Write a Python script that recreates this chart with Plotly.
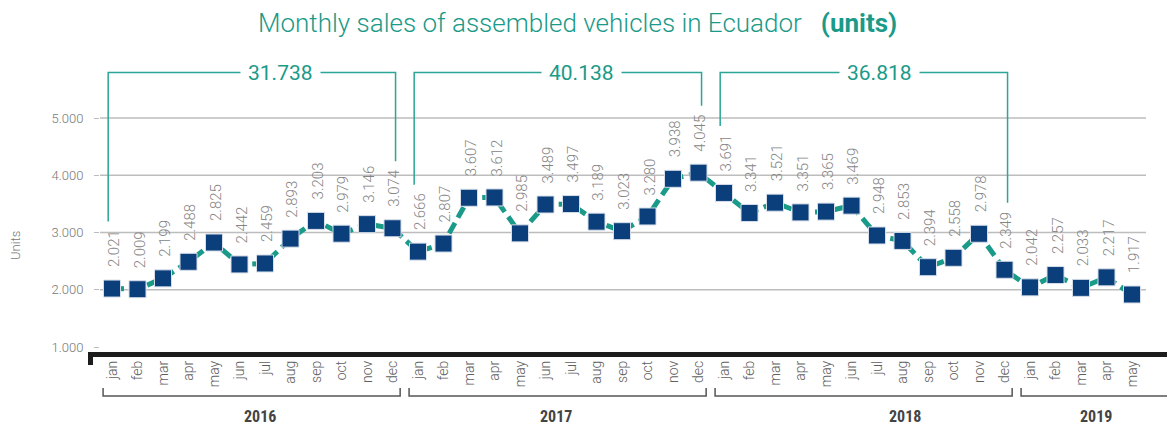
import plotly.graph_objects as go

# ---------------- data ----------------
months = ["jan", "feb", "mar", "apr", "may", "jun", "jul", "aug", "sep", "oct", "nov", "dec"]
years = ["2016", "2017", "2018", "2019"]
sales_2016 = [2021, 2009, 2199, 2488, 2825, 2442, 2459, 2893, 3203, 2979, 3146, 3074]
sales_2017 = [2666, 2807, 3607, 3612, 2985, 3489, 3497, 3189, 3023, 3280, 3938, 4045]
sales_2018 = [3691, 3341, 3521, 3351, 3365, 3469, 2948, 2853, 2394, 2558, 2978, 2349]
sales_2019 = [2042, 2257, 2033, 2217, 1917]
y_ticks = [1000, 2000, 3000, 4000, 5000]
grid_values = [2000, 3000, 4000, 5000]

series = [sales_2016, sales_2017, sales_2018, sales_2019]
values = [v for s in series for v in s]
labels = [m for s in series for m in months[:len(s)]]
idx = list(range(len(values)))


def fmt(v):
    return f"{v:,}".replace(",", ".")


# ---------------- layout geometry ----------------
OFF = 8                          # page body margin
W, H = 1175 - OFF, 428 - OFF
# all geometry below in page (reference) pixels
PL, PR, PT, PB = 100, 1146, 60, 352   # plot area edges
L, R, T, B = PL - OFF, W - (PR - OFF), PT - OFF, H - (PB - OFF)
PW, PH = PR - PL, PB - PT
X0_PX, STEP = 112, 25.5          # pixel of first month, px per month
x_range = [(PL - X0_PX) / STEP, (PR - X0_PX) / STEP]
K = 1000 / 57.25                 # data units per pixel
y_range = [1000 - (PB - 347) * K, 5000 + (118 - PT) * K]


def xp(i):  # month index -> paper x
    return (X0_PX + i * STEP - PL) / PW


def ppx(px):  # page pixel -> paper x
    return (px - PL) / PW


def ppy(py):  # page pixel -> paper y
    return (PB - py) / PH


TEAL = "#1a9a88"
NAVY = "#0b3f7b"
GRAY = "#858585"
FONT = "Roboto"

fig = go.Figure()
fig.add_trace(go.Scatter(
    x=idx, y=values, mode="lines+markers",
    line=dict(color=TEAL, width=5, dash="12px,6px"),
    marker=dict(symbol="square", size=17, color=NAVY,
                line=dict(color="#d6dee9", width=1)),
    cliponaxis=False, hoverinfo="skip", showlegend=False,
))

shapes = []
# gridlines
for g in grid_values:
    shapes.append(dict(type="line", xref="paper", yref="y", x0=0, x1=1, y0=g, y1=g,
                       line=dict(color="#bdbdbd", width=1.5), layer="below"))

annotations = []
# data labels
for i, v in zip(idx, values):
    annotations.append(dict(x=i, y=v, xref="x", yref="y", text=fmt(v), textangle=-90,
                            showarrow=False, xanchor="center", yanchor="bottom",
                            yshift=19, xshift=2,
                            font=dict(family=FONT, size=15, color=GRAY, weight=300)))

# top brackets with totals
TOP_Y = 5000 + (118 - 72.5) * K
EXT = 1170
starts = [0, 12, 24]
total_label_x = [6.6, 18.4, 30.1]
for k, st in enumerate(starts):
    en = st + 11
    s_vals = series[k]
    shapes.append(dict(type="path", xref="x", yref="y",
                       path=f"M {st - 0.15},{values[st] + EXT} L {st - 0.15},{TOP_Y} "
                            f"L {en + 0.12},{TOP_Y} L {en + 0.12},{values[en] + EXT}",
                       line=dict(color="#2aa596", width=1.5)))
    annotations.append(dict(x=total_label_x[k], y=TOP_Y, xref="x", yref="y",
                            text=fmt(sum(s_vals)), showarrow=False,
                            xanchor="center", yanchor="middle",
                            bgcolor="white", borderpad=7,
                            font=dict(family=FONT, size=21, color=TEAL, weight=400)))

# black base bar
shapes.append(dict(type="path", xref="paper", yref="paper",
                   path=f"M {ppx(90.5)},{ppy(365)} L {ppx(90.5)},{ppy(354.5)} "
                        f"L {ppx(1171)},{ppy(354.5)} L {ppx(1171)},{ppy(366)}",
                   line=dict(color="#1c1c1c", width=5)))

# year brackets
year_start = [0, 12, 24, 36]
year_end = [11, 23, 35, 41.6]
year_label_x = [5.8, 17.4, 31.1, 38.6]
for k in range(4):
    a = xp(year_start[k] - 0.35)
    b = xp(year_end[k] + 0.3) if k < 3 else ppx(1172.5)
    shapes.append(dict(type="path", xref="paper", yref="paper",
                       path=f"M {a},{ppy(388)} L {a},{ppy(396)} L {b},{ppy(396)} L {b},{ppy(388)}",
                       line=dict(color="#555555", width=1.5)))
    annotations.append(dict(x=xp(year_label_x[k]), y=ppy(416), xref="paper", yref="paper",
                            text=f"<b>{years[k]}</b>", showarrow=False,
                            xanchor="center", yanchor="middle",
                            font=dict(family="Roboto Condensed, DejaVu Sans Condensed, Roboto",
                                      size=16, color="#444444")))

# axis title
annotations.append(dict(x=ppx(15), y=ppy(246), xref="paper", yref="paper", text="Units",
                        textangle=-90, showarrow=False, xanchor="center", yanchor="middle",
                        font=dict(family=FONT, size=13, color="#777777", weight=300)))

# title
annotations.append(dict(x=ppx(577), y=ppy(23), xref="paper", yref="paper",
                        text="Monthly sales of assembled vehicles in Ecuador &nbsp;&nbsp;<b>(units)</b>",
                        showarrow=False, xanchor="center", yanchor="middle",
                        font=dict(family=FONT, size=26, color=TEAL, weight=300)))

fig.update_layout(
    width=W, height=H,
    margin=dict(l=L, r=R, t=T, b=B, pad=0),
    paper_bgcolor="white", plot_bgcolor="white",
    shapes=shapes, annotations=annotations,
    xaxis=dict(range=x_range, tickmode="array", tickvals=idx, ticktext=labels,
               tickangle=-90, showgrid=False, zeroline=False, showline=False,
               ticks="", ticklabelstandoff=5,
               tickfont=dict(family=FONT, size=14, color="#5e5e5e", weight=300)),
    yaxis=dict(range=y_range, tickmode="array", tickvals=y_ticks,
               ticktext=[fmt(v) for v in y_ticks], showgrid=False, zeroline=False,
               showline=False, ticks="outside", ticklen=5, tickcolor="#bbbbbb",
               ticklabelstandoff=8,
               tickfont=dict(family=FONT, size=13, color="#777777", weight=300)),
)

fig.write_html("out.html")
